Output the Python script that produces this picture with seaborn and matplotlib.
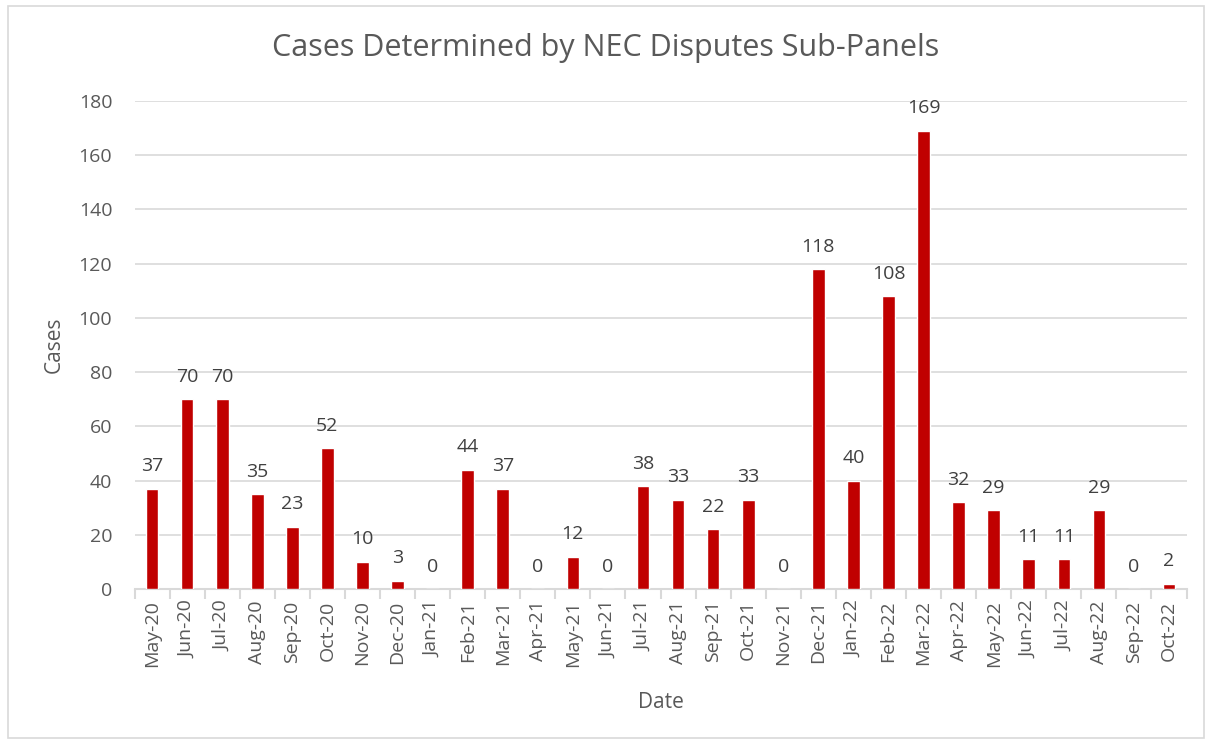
import seaborn as sns
import pandas as pd
import matplotlib.pyplot as plt
from matplotlib.patches import Rectangle

# data
months = ['May-20', 'Jun-20', 'Jul-20', 'Aug-20', 'Sep-20', 'Oct-20', 'Nov-20', 'Dec-20',
          'Jan-21', 'Feb-21', 'Mar-21', 'Apr-21', 'May-21', 'Jun-21', 'Jul-21', 'Aug-21',
          'Sep-21', 'Oct-21', 'Nov-21', 'Dec-21', 'Jan-22', 'Feb-22', 'Mar-22', 'Apr-22',
          'May-22', 'Jun-22', 'Jul-22', 'Aug-22', 'Sep-22', 'Oct-22']
cases = [37, 70, 70, 35, 23, 52, 10, 3, 0, 44, 37, 0, 12, 0, 38, 33,
         22, 33, 0, 118, 40, 108, 169, 32, 29, 11, 11, 29, 0, 2]

df = pd.DataFrame({'Date': months, 'Cases': cases})

sns.set_theme(style='white')
plt.rcParams['font.family'] = ['Open Sans', 'DejaVu Sans']
grey = '#595959'

fig = plt.figure(figsize=(12.12, 7.42), dpi=100)
ax = fig.add_axes([0.111, 0.206, 0.868, 0.658])

sns.barplot(data=df, x='Date', y='Cases', color='#C00000', width=0.36,
            saturation=1, ax=ax, zorder=3)

for i, v in enumerate(cases):
    ax.text(i, v + 5, str(v), ha='center', va='bottom', fontsize=14, color='#404040')

ax.set_ylim(0, 180)
ax.set_xlim(-0.5, len(months) - 0.5)
ax.set_yticks(range(0, 181, 20))
ax.yaxis.grid(True, color='#D9D9D9', linewidth=1.2, zorder=0)
ax.set_axisbelow(True)

for s in ['top', 'right', 'left']:
    ax.spines[s].set_visible(False)
ax.spines['bottom'].set_color('#D9D9D9')
ax.spines['bottom'].set_linewidth(1.5)

ax.set_xticks(range(len(months)))
ax.set_xticklabels(months, rotation=90, fontsize=14, color=grey)
ax.tick_params(axis='x', which='major', bottom=False, length=0, pad=8)
ax.tick_params(axis='y', length=0, labelsize=14, labelcolor=grey, pad=16)
# tick marks between categories
ax.set_xticks([i - 0.5 for i in range(len(months) + 1)], minor=True)
ax.tick_params(axis='x', which='minor', bottom=True, length=7, color='#D9D9D9',
               width=1.5, direction='out')

ax.set_xlabel('Date', fontsize=15, color=grey, labelpad=18)
ax.set_ylabel('Cases', fontsize=15, color=grey, labelpad=10)
fig.suptitle('Cases Determined by NEC Disputes Sub-Panels', fontsize=22, color=grey, y=0.955)

fig.patches.append(Rectangle((0.007, 0.006), 0.986, 0.986, transform=fig.transFigure,
                             fill=False, edgecolor='#D9D9D9', linewidth=1.2))

fig.savefig('out.png', dpi=100)
